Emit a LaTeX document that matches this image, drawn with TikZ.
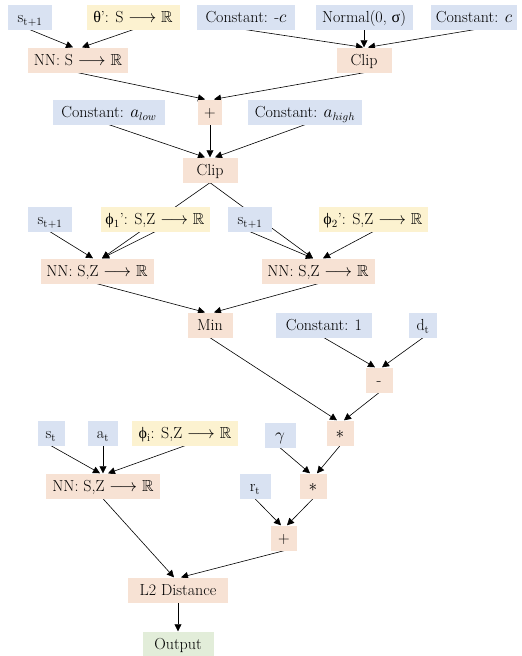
\documentclass[tikz,border=0pt]{standalone}
\usepackage{fontspec}
\usepackage{amssymb}
\usetikzlibrary{arrows.meta}
\newfontfamily\grk{Liberation Serif}
\pgfdeclarelayer{background}
\pgfsetlayers{background,main}
\definecolor{cblue}{RGB}{217,226,242}
\definecolor{cyel}{RGB}{252,242,208}
\definecolor{cpeach}{RGB}{247,226,212}
\definecolor{cgreen}{RGB}{226,237,217}
\tikzset{
  box/.style={rectangle, inner sep=0pt, minimum height=25pt, text height=12pt, text depth=1pt, font=\fontsize{16}{18}\selectfont},
  inbox/.style={box, fill=cblue},
  parbox/.style={box, fill=cyel},
  opbox/.style={box, fill=cpeach},
  outbox/.style={box, fill=cgreen},
  edge/.style={-{Triangle[length=7pt,width=7pt]}, line width=0.6pt}
}
\begin{document}
\begin{tikzpicture}[x=1pt,y=-1pt]
\useasboundingbox (0,0) rectangle (522,656);
% row 1
\node[inbox, minimum width=44pt] (s1) at (30,17) {s$_{\mathrm{t+1}}$};
\node[parbox, minimum width=93pt] (th) at (133,17) {{\grk θ}': S $\longrightarrow$ $\mathbb{R}$};
\node[inbox, minimum width=98pt] (cm) at (246,17) {Constant: -$c$};
\node[inbox, minimum width=97pt] (normal) at (364,17) {Normal(0, {\grk σ})};
\node[inbox, minimum width=86pt] (cp) at (474,17) {Constant: $c$};
% row 2
\node[opbox, minimum width=100pt] (nn0) at (78,60) {NN: S $\longrightarrow$ $\mathbb{R}$};
\node[opbox, minimum width=55pt] (clip1) at (364,60) {Clip};
% row 3
\node[inbox, minimum width=112pt] (alow) at (109,112) {Constant: $a_{low}$};
\node[opbox, minimum width=24pt] (plus1) at (210,112) {+};
\node[inbox, minimum width=114pt] (ahigh) at (305,112) {Constant: $a_{high}$};
\node[opbox, minimum width=55pt] (clip2) at (210,170) {Clip};
% phi row
\node[inbox, minimum width=44pt] (s2) at (50,219) {s$_{\mathrm{t+1}}$};
\node[parbox, minimum width=109pt] (phi1) at (155,219) {{\grk ϕ}$_1$': S,Z $\longrightarrow$ $\mathbb{R}$};
\node[inbox, minimum width=44pt] (s3) at (250,219) {s$_{\mathrm{t+1}}$};
\node[parbox, minimum width=109pt] (phi2) at (373,219) {{\grk ϕ}$_2$': S,Z $\longrightarrow$ $\mathbb{R}$};
\node[opbox, minimum width=113pt] (nn1) at (97,271) {NN: S,Z $\longrightarrow$ $\mathbb{R}$};
\node[opbox, minimum width=113pt] (nn2) at (318,271) {NN: S,Z $\longrightarrow$ $\mathbb{R}$};
% min row
\node[opbox, minimum width=45pt] (min) at (210,325) {Min};
\node[inbox, minimum width=96pt] (one) at (324,325) {Constant: 1};
\node[inbox, minimum width=28pt] (dt) at (423,325) {d$_{\mathrm{t}}$};
\node[opbox, minimum width=27pt] (minus) at (379,380) {-};
\node[opbox, minimum width=27pt] (mul1) at (340,433) {$\ast$};
\node[inbox, minimum width=31pt] (gam) at (280,435) {$\gamma$};
\node[inbox, minimum width=27pt] (st) at (51,433) {s$_{\mathrm{t}}$};
\node[inbox, minimum width=30pt] (at) at (103,433) {a$_{\mathrm{t}}$};
\node[parbox, minimum width=106pt] (phii) at (185,433) {{\grk ϕ}$_{\mathrm{i}}$: S,Z $\longrightarrow$ $\mathbb{R}$};
\node[opbox, minimum width=114pt] (nn3) at (103,486) {NN: S,Z $\longrightarrow$ $\mathbb{R}$};
\node[inbox, minimum width=31pt] (rt) at (255,486) {r$_{\mathrm{t}}$};
\node[opbox, minimum width=27pt] (mul2) at (313,486) {$\ast$};
\node[opbox, minimum width=26pt] (plus2) at (284,538) {+};
\node[opbox, minimum width=100pt] (l2) at (178,590) {L2 Distance};
\node[outbox, minimum width=71pt] (out) at (178,644) {Output};
\begin{pgfonlayer}{background}
\draw[edge] (s1.south) -- ([xshift=-5pt]nn0.north);
\draw[edge] (th.south) -- ([xshift=4pt]nn0.north);
\draw[edge] (cm.south) -- ([xshift=-1pt]clip1.north);
\draw[edge] (normal.south) -- (clip1.north);
\draw[edge] (cp.south) -- ([xshift=4pt]clip1.north);
\draw[edge] (nn0.south) -- ([xshift=-5pt]plus1.north);
\draw[edge] (clip1.south) -- ([xshift=4pt]plus1.north);
\draw[edge] (alow.south) -- ([xshift=-5pt]clip2.north);
\draw[edge] (plus1.south) -- (clip2.north);
\draw[edge] (ahigh.south) -- ([xshift=5pt]clip2.north);
\draw[edge] (clip2.south) -- ([xshift=5pt]nn1.north);
\draw[edge] (clip2.south) -- ([xshift=-5pt]nn2.north);
\draw[edge] (s2.south) -- ([xshift=-4pt]nn1.north);
\draw[edge] (phi1.south) -- ([xshift=5pt]nn1.north);
\draw[edge] (s3.south) -- ([xshift=-5pt]nn2.north);
\draw[edge] (phi2.south) -- ([xshift=5pt]nn2.north);
\draw[edge] (nn1.south) -- ([xshift=-5pt]min.north);
\draw[edge] (nn2.south) -- ([xshift=4pt]min.north);
\draw[edge] (min.south) -- ([xshift=-3pt]mul1.north);
\draw[edge] (one.south) -- ([xshift=-4pt]minus.north);
\draw[edge] (dt.south) -- ([xshift=3pt]minus.north);
\draw[edge] (minus.south) -- ([xshift=4pt]mul1.north);
\draw[edge] (st.south) -- ([xshift=-3pt]nn3.north);
\draw[edge] (at.south) -- (nn3.north);
\draw[edge] (phii.south) -- ([xshift=5pt]nn3.north);
\draw[edge] (gam.south) -- ([xshift=-3pt]mul2.north);
\draw[edge] (mul1.south) -- ([xshift=4pt]mul2.north);
\draw[edge] (rt.south) -- ([xshift=-3pt]plus2.north);
\draw[edge] (mul2.south) -- ([xshift=3pt]plus2.north);
\draw[edge] (nn3.south) -- ([xshift=-4pt]l2.north);
\draw[edge] (plus2.south) -- ([xshift=3pt]l2.north);
\draw[edge] (l2.south) -- (out.north);
\end{pgfonlayer}
\end{tikzpicture}
\end{document}
